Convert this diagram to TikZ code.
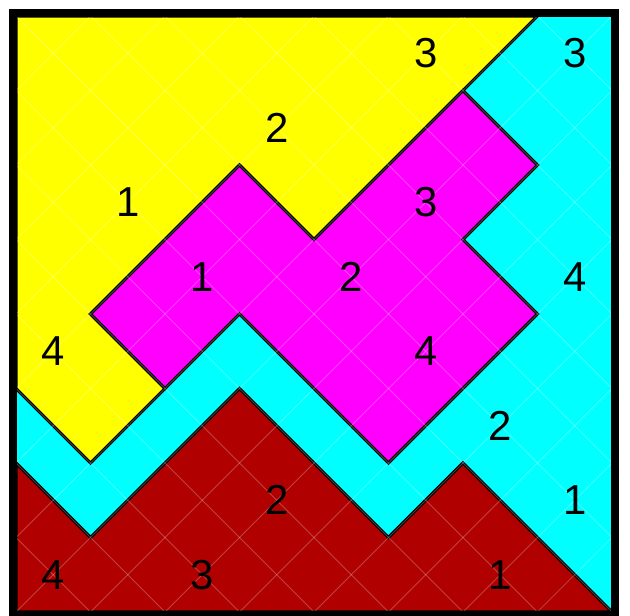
\documentclass[tikz,border=0pt]{standalone}
\usepackage{fontspec}
\setmainfont{Liberation Sans}
\usepackage{xcolor}
\usepackage{tikz}
\definecolor{tileyellow}{RGB}{255,255,0}
\definecolor{tilecyan}{RGB}{0,255,255}
\definecolor{tilemagenta}{RGB}{255,0,255}
\definecolor{tilered}{RGB}{176,0,0}

\begin{document}
\begin{tikzpicture}[
        tile/.style={draw=black, line width=1.2pt, line join=miter},
        seam/.style={white, opacity=0.25, line width=0.3pt},
        num/.style={font=\fontsize{16}{19}\selectfont, inner sep=0pt}
    ]
    \useasboundingbox (-0.215,-0.054) rectangle (8.242,8.215);

    % Background (cyan part)
    \fill[tilecyan] (0,0) rectangle (8,8);

    % Yellow part
    \filldraw[tile, fill=tileyellow] (0,8) -- (7,8) -- (6,7) -- (4,5) -- (3,6) -- (1,4)
        -- (2,3) -- (1,2) -- (0,3) -- cycle;

    % Magenta part
    \filldraw[tile, fill=tilemagenta] (6,7) -- (7,6) -- (6,5) -- (7,4) -- (5,2) -- (3,4)
        -- (2,3) -- (1,4) -- (3,6) -- (4,5) -- cycle;

    % Dark red part
    \filldraw[tile, fill=tilered] (0,2) -- (1,1) -- (3,3) -- (5,1) -- (6,2) -- (8,0)
        -- (0,0) -- cycle;

    % Faint diagonal seams
    \begin{scope}
        \clip (0,0) rectangle (8,8);
        \foreach \k in {-8,...,8}
            \draw[seam] (\k,0) -- ({\k+8},8);
        \foreach \k in {0,...,16}
            \draw[seam] (\k,0) -- ({\k-8},8);
    \end{scope}

    % Numbers
    \foreach \n/\c/\r in {3/5/0, 2/3/1, 1/1/2, 4/0/4}
        \node[num] (y\n) at ({\c+0.5},{7.5-\r}) {\n};
    \foreach \n/\c/\r in {3/7/0, 4/7/3, 2/6/5, 1/7/6}
        \node[num] (c\n) at ({\c+0.5},{7.5-\r}) {\n};
    \foreach \n/\c/\r in {1/2/3, 2/4/3, 3/5/2, 4/5/4}
        \node[num] (m\n) at ({\c+0.5},{7.5-\r}) {\n};
    \foreach \n/\c/\r in {4/0/7, 3/2/7, 2/3/6, 1/6/7}
        \node[num] (r\n) at ({\c+0.5},{7.5-\r}) {\n};

    % Frame
    \draw[line width=0.1cm] (-0.04,-0.04) rectangle (8.04,8.04);

    \end{tikzpicture}
\end{document}
